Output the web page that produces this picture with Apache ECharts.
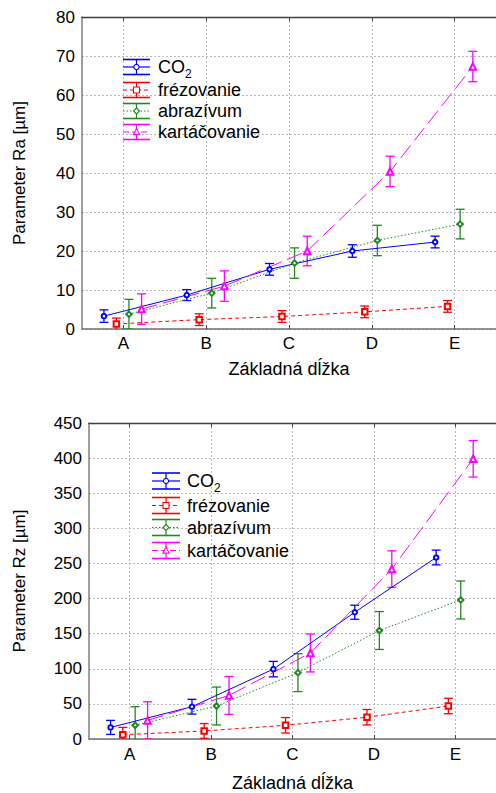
<!DOCTYPE html>
<html><head><meta charset="utf-8">
<script src="https://cdn.jsdelivr.net/npm/echarts@6/dist/echarts.min.js"></script>
<style>html,body{margin:0;padding:0;background:#fff}#c{width:496px;height:793px}</style>
</head><body><div id="c"></div>
<script>
// ---------- data ----------
const categories = ['A', 'B', 'C', 'D', 'E'];
const seriesNames = ['CO2', 'frézovanie', 'abrazívum', 'kartáčovanie'];

// Ra (top)
const raCO2 = [3.3, 8.7, 15.3, 20.0, 22.3];
const raCO2Err = [1.6, 1.4, 1.5, 1.6, 1.5];
const raFrez = [1.3, 2.4, 3.2, 4.4, 5.8];
const raFrezErr = [1.5, 1.5, 1.5, 1.5, 1.5];
const raAbr = [3.8, 9.2, 16.9, 22.7, 26.9];
const raAbrErr = [3.8, 3.8, 3.9, 3.9, 3.8];
const raKart = [5.1, 11.0, 20.0, 40.4, 67.3];
const raKartErr = [3.9, 3.9, 3.8, 3.9, 3.9];

// Rz (bottom)
const rzCO2 = [16.5, 46, 99.5, 180.5, 258.5];
const rzCO2Err = [10, 10.5, 11, 10, 10.5];
const rzFrez = [6, 11.5, 19.5, 31, 47];
const rzFrezErr = [10.5, 10.5, 11, 11, 11];
const rzAbr = [19.5, 47, 94.5, 154.5, 198];
const rzAbrErr = [26.5, 27, 27, 27, 27];
const rzKart = [26.5, 62, 122.5, 242, 399];
const rzKartErr = [26.5, 27, 27, 26, 26];

const raTicks = {min: 0, max: 80, interval: 10};
const rzTicks = {min: 0, max: 450, interval: 50};

// ---------- styles ----------
const FONT = '"Liberation Sans", Arial, sans-serif';
const colors = ['#0000ff', '#ff0000', '#1f8a1f', '#ff00ff'];
const symbols = ['emptyCircle', 'emptyRect', 'emptyDiamond', 'emptyTriangle'];
const symbolSizes = [4.5, 5.5, 5.5, 6.5];
const lineTypes = ['solid', [4, 3], [1.5, 2], [16, 6]];
const dodge = [-0.235, -0.085, 0.067, 0.22];

const raVals = [raCO2, raFrez, raAbr, raKart];
const raErrs = [raCO2Err, raFrezErr, raAbrErr, raKartErr];
const rzVals = [rzCO2, rzFrez, rzAbr, rzKart];
const rzErrs = [rzCO2Err, rzFrezErr, rzAbrErr, rzKartErr];

const grids = [
  {left: 82, top: 17, right: -3, height: 312},
  {left: 89, top: 423, right: -4, height: 316}
];

const gridLine = {show: true, alignWithLabel: true, lineStyle: {color: '#b8b8b8', type: [2, 2], width: 1}};

const xAxes = [], yAxes = [], series = [];

function buildPanel(gi, vals, errs, ticks, yName, yGap, xGap, labelMargin) {
  xAxes.push({
    type: 'category', gridIndex: gi, data: categories, boundaryGap: true,
    axisLine: {show: true, onZero: false, lineStyle: {color: '#707070', width: 1.5}},
    axisTick: {show: true, inside: true, length: 4, alignWithLabel: true, lineStyle: {color: '#444'}},
    axisLabel: {fontFamily: FONT, fontSize: 17, color: '#000', margin: labelMargin},
    splitLine: gridLine,
    name: 'Základná dĺžka', nameLocation: 'middle', nameGap: xGap,
    nameTextStyle: {fontFamily: FONT, fontSize: 18, color: '#000'}
  });
  xAxes.push({
    type: 'category', gridIndex: gi, data: categories, boundaryGap: true, position: 'top',
    axisLine: {show: true, onZero: false, lineStyle: {color: '#404040', width: 1.3}},
    axisTick: {show: true, inside: true, length: 4, alignWithLabel: true, lineStyle: {color: '#444'}},
    axisLabel: {show: false}, splitLine: {show: false}
  });
  const vx = xAxes.length;
  xAxes.push({
    type: 'value', gridIndex: gi, min: -0.5, max: categories.length - 0.5, show: false,
    axisLine: {onZero: false}, splitLine: {show: false}
  });
  const yi = yAxes.length;
  yAxes.push({
    type: 'value', gridIndex: gi, min: ticks.min, max: ticks.max, interval: ticks.interval,
    axisLine: {show: true, onZero: false, lineStyle: {color: '#808080', width: 1.5}},
    axisTick: {show: false},
    axisLabel: {fontFamily: FONT, fontSize: 17, color: '#000', margin: 7},
    splitLine: {show: true, lineStyle: {color: '#b8b8b8', type: [2, 2], width: 1}},
    name: yName, nameLocation: 'middle', nameGap: yGap,
    nameTextStyle: {fontFamily: FONT, fontSize: 17, color: '#000'}
  });
  vals.forEach((v, k) => {
    const color = colors[k];
    series.push({
      type: 'line', name: seriesNames[k], xAxisIndex: vx, yAxisIndex: yi,
      data: v.map((y, i) => [i + dodge[k], y]),
      symbol: symbols[k], symbolSize: symbolSizes[k],
      lineStyle: {color: color, width: 1, type: lineTypes[k]},
      itemStyle: {color: color, borderColor: color, borderWidth: 1},
      z: 3, animation: false, clip: true
    });
    series.push({
      type: 'custom', xAxisIndex: vx, yAxisIndex: yi, clip: true, z: 2, animation: false,
      data: v.map((y, i) => [i + dodge[k], y - errs[k][i], y + errs[k][i]]),
      encode: {x: 0, y: [1, 2]},
      renderItem: function (params, api) {
        const x = api.value(0);
        const top = api.coord([x, api.value(2)]);
        const bot = api.coord([x, api.value(1)]);
        const hw = 4.5;
        const st = {stroke: color, lineWidth: 1.3};
        return {type: 'group', children: [
          {type: 'line', shape: {x1: top[0], y1: top[1], x2: bot[0], y2: bot[1]}, style: st},
          {type: 'line', shape: {x1: top[0] - hw, y1: top[1], x2: top[0] + hw, y2: top[1]}, style: st},
          {type: 'line', shape: {x1: bot[0] - hw, y1: bot[1], x2: bot[0] + hw, y2: bot[1]}, style: st}
        ]};
      }
    });
  });
}

buildPanel(0, raVals, raErrs, raTicks, 'Parameter Ra [µm]', 54, 31, 6);
buildPanel(1, rzVals, rzErrs, rzTicks, 'Parameter Rz [µm]', 61, 35, 7);

// ---------- legends (error-bar glyphs) ----------
const graphics = [];
function markerShape(k, cx, cy) {
  const st = {fill: '#fff', stroke: colors[k], lineWidth: 1.1};
  if (k === 0) return {type: 'circle', shape: {cx: cx, cy: cy, r: 2.6}, style: st, z: 10};
  if (k === 1) return {type: 'rect', shape: {x: cx - 3, y: cy - 3, width: 6, height: 6}, style: st, z: 10};
  if (k === 2) return {type: 'polygon', shape: {points: [[cx, cy - 3], [cx + 3, cy], [cx, cy + 3], [cx - 3, cy]]}, style: st, z: 10};
  return {type: 'polygon', shape: {points: [[cx, cy - 3.6], [cx + 3.1, cy + 2.6], [cx - 3.1, cy + 2.6]]}, style: st, z: 10};
}
function legend(x0, x1, ys, h, textX) {
  seriesNames.forEach((name, k) => {
    const cy = ys[k], cx = (x0 + x1) / 2, c = colors[k];
    const st = {stroke: c, lineWidth: 1.6};
    graphics.push({type: 'line', shape: {x1: x0, y1: cy - h, x2: x1, y2: cy - h}, style: st, z: 10});
    graphics.push({type: 'line', shape: {x1: x0, y1: cy + h, x2: x1, y2: cy + h}, style: st, z: 10});
    graphics.push({type: 'line', shape: {x1: cx, y1: cy - h, x2: cx, y2: cy + h}, style: {stroke: c, lineWidth: 1.2}, z: 10});
    const ld = lineTypes[k] === 'solid' ? null : (k === 3 ? [6, 3] : lineTypes[k]);
    graphics.push({type: 'line', shape: {x1: x0, y1: cy, x2: x1, y2: cy}, style: {stroke: c, lineWidth: 1.2, lineDash: ld}, z: 10});
    graphics.push(markerShape(k, cx, cy));
    if (name === 'CO2') {
      graphics.push({type: 'text', x: textX, y: cy, z: 10, style: {
        text: '{a|CO}{s|2}', fill: '#000', verticalAlign: 'middle',
        rich: {a: {fontFamily: FONT, fontSize: 18, lineHeight: 20, verticalAlign: 'middle'},
               s: {fontFamily: FONT, fontSize: 12, lineHeight: 12, verticalAlign: 'bottom', padding: [0, 0, -3, 0]}}
      }});
    } else {
      graphics.push({type: 'text', x: textX, y: cy, z: 10, style: {
        text: name, fill: '#000', verticalAlign: 'middle', fontFamily: FONT, fontSize: 18
      }});
    }
  });
}
legend(123, 150, [67, 90, 111, 132], 7.5, 158);
legend(152, 180, [481, 505.5, 527.5, 550.5], 8, 187);

const chart = echarts.init(document.getElementById('c'), null, {renderer: 'svg'});
chart.setOption({
  animation: false,
  backgroundColor: '#fff',
  grid: grids,
  xAxis: xAxes,
  yAxis: yAxes,
  series: series,
  graphic: graphics
});
</script>
</body></html>
